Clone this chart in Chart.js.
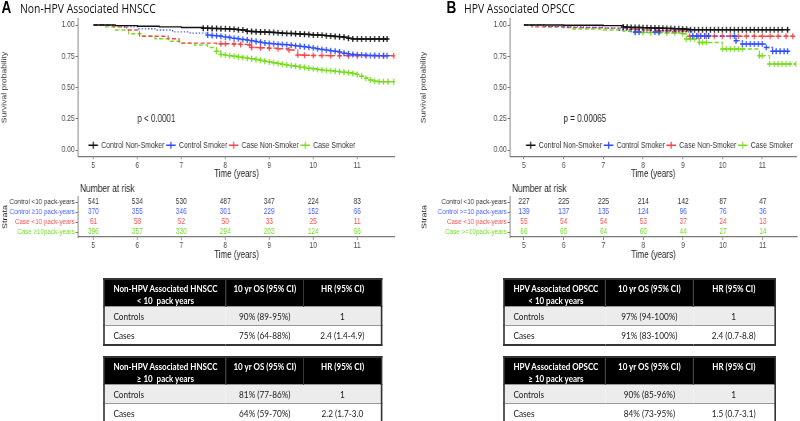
<!DOCTYPE html>
<html>
<head>
<meta charset="utf-8">
<script src="https://cdn.jsdelivr.net/npm/chart.js@4.4.1/dist/chart.umd.min.js"></script>
<style>
html, body { margin: 0; padding: 0; background: #fff; overflow: hidden; }
#page { position: relative; width: 1000px; height: 421px; transform: scaleX(0.8); transform-origin: 0 0; }
canvas { position: absolute; }
.tag { position: absolute; top: -3px; font: bold 17px "Liberation Sans", Arial, sans-serif; line-height: 22px; color: #000; }
.ttl { position: absolute; top: -1px; font: 13px "Open Sans", sans-serif; line-height: 18px; color: #111; white-space: nowrap; }
table.os { position: absolute; border-collapse: collapse; table-layout: fixed; border: 2px solid #333;
  font-family: Lato, "Open Sans", sans-serif; font-size: 10.3px; color: #1a1a1a; }
table.os th { background: #000; color: #fff; font-weight: bold; font-size: 10px; vertical-align: top; padding: 2px 0 0; line-height: 12px; text-align: center; border-left: 1px solid #444; white-space: nowrap; }
table.os th:first-child { text-align: left; padding-left: 11px; border-left: none; }
table.os th .hd { display: inline-block; text-align: center; }
table.os td { border-top: 1px solid #999; padding: 0; text-align: center; vertical-align: middle; white-space: nowrap; }
table.os td:first-child { text-align: left; padding-left: 11px; }
table.os tr.g td { background: #ececec; }
</style>
</head>
<body>
<div id="page">
  <div class="tag" style="left:2px">A</div>
  <div class="ttl" style="left:25px">Non-HPV Associated HNSCC</div>
  <div class="tag" style="left:558px">B</div>
  <div class="ttl" style="left:580px">HPV Associated OPSCC</div>
  <canvas id="kmA" width="500" height="185" style="left:0;top:0;width:500px;height:185px"></canvas>
  <canvas id="kmB" width="476" height="185" style="left:524px;top:0;width:476px;height:185px"></canvas>
  <canvas id="riskA" width="500" height="84" style="left:0;top:178px;width:500px;height:84px"></canvas>
  <canvas id="riskB" width="476" height="84" style="left:524px;top:178px;width:476px;height:84px"></canvas>
  <div id="tables"></div>
</div>
<script>
// axis values
const times = [5, 6, 7, 8, 9, 10, 11];
const survTicks = [0, 0.25, 0.5, 0.75, 1];
const groups = ['Control Non-Smoker', 'Control Smoker', 'Case Non-Smoker', 'Case Smoker'];
const groupColors = ['#111111', '#2d4dff', '#f04848', '#78dc1e'];
const riskColors = ['#333333', '#4660ff', '#f05252', '#70dc28'];
const dashes = [[], [1.5, 2.5], [5, 3], [5, 3]];

// A: Non-HPV associated HNSCC
const aCtrlNonX = [5, 5.5, 6, 6.5, 7, 7.5, 7.6, 7.7, 7.8, 7.9, 8.0, 8.1, 8.2, 8.3, 8.4, 8.5, 8.6, 8.7, 8.8, 8.9, 9.0, 9.1, 9.2, 9.3, 9.4, 9.5, 9.6, 9.7, 9.8, 9.9, 10.0, 10.1, 10.2, 10.3, 10.4, 10.5, 10.6, 10.7, 10.8, 10.9, 11.0, 11.1, 11.2, 11.3, 11.4, 11.5, 11.6, 11.68];
const aCtrlNonY = [1, 0.995, 0.99, 0.985, 0.98, 0.975, 0.974, 0.973, 0.972, 0.971, 0.97, 0.968, 0.966, 0.963, 0.96, 0.95, 0.948, 0.947, 0.945, 0.944, 0.942, 0.94, 0.938, 0.935, 0.933, 0.932, 0.93, 0.928, 0.926, 0.924, 0.921, 0.92, 0.918, 0.915, 0.912, 0.909, 0.906, 0.903, 0.895, 0.889, 0.888, 0.888, 0.888, 0.888, 0.888, 0.888, 0.888, 0.888];
const aCtrlSmkX = [5, 5.3, 5.6, 6, 6.4, 6.8, 7.2, 7.6, 7.7, 7.8, 7.9, 8.0, 8.1, 8.2, 8.3, 8.4, 8.5, 8.6, 8.7, 8.8, 8.9, 9.0, 9.1, 9.2, 9.3, 9.4, 9.5, 9.6, 9.7, 9.8, 9.9, 10.0, 10.1, 10.2, 10.3, 10.4, 10.5, 10.6, 10.7, 10.8, 10.9, 11.0, 11.1, 11.2, 11.3, 11.4, 11.5, 11.6, 11.68];
const aCtrlSmkY = [1, 0.995, 0.985, 0.97, 0.96, 0.945, 0.935, 0.92, 0.917, 0.914, 0.91, 0.905, 0.9, 0.895, 0.89, 0.885, 0.88, 0.874, 0.868, 0.862, 0.857, 0.853, 0.85, 0.847, 0.845, 0.842, 0.838, 0.834, 0.83, 0.826, 0.822, 0.817, 0.81, 0.805, 0.8, 0.795, 0.79, 0.785, 0.775, 0.77, 0.765, 0.762, 0.76, 0.758, 0.757, 0.756, 0.755, 0.755, 0.755];
const aCaseNonX = [5, 5.45, 5.75, 6.05, 6.7, 6.95, 7.8, 7.9, 8.0, 8.2, 8.35, 8.55, 8.6, 8.8, 9.0, 9.2, 9.45, 9.65, 9.8, 10.0, 10.2, 10.4, 10.6, 10.8, 11.0, 11.2, 11.4, 11.6, 11.83];
const aCaseNonY = [1, 0.985, 0.96, 0.91, 0.89, 0.855, 0.85, 0.85, 0.85, 0.848, 0.845, 0.84, 0.82, 0.818, 0.815, 0.81, 0.8, 0.76, 0.758, 0.756, 0.756, 0.755, 0.755, 0.755, 0.755, 0.755, 0.755, 0.755, 0.755];
const aCaseSmkX = [5, 5.25, 5.5, 5.8, 6.1, 6.4, 6.7, 7.0, 7.3, 7.6, 7.8, 7.9, 8.0, 8.1, 8.2, 8.3, 8.4, 8.5, 8.6, 8.7, 8.8, 8.9, 9.0, 9.1, 9.2, 9.3, 9.4, 9.5, 9.6, 9.7, 9.8, 9.9, 10.0, 10.1, 10.2, 10.3, 10.4, 10.5, 10.6, 10.7, 10.8, 10.9, 11.0, 11.1, 11.2, 11.3, 11.4, 11.5, 11.6, 11.7, 11.83];
const aCaseSmkY = [1, 0.985, 0.96, 0.93, 0.91, 0.89, 0.87, 0.855, 0.84, 0.82, 0.79, 0.765, 0.76, 0.755, 0.75, 0.745, 0.74, 0.735, 0.73, 0.725, 0.718, 0.71, 0.705, 0.698, 0.692, 0.686, 0.68, 0.675, 0.67, 0.665, 0.66, 0.655, 0.65, 0.645, 0.64, 0.637, 0.634, 0.63, 0.627, 0.622, 0.618, 0.612, 0.605, 0.59, 0.575, 0.56, 0.55, 0.547, 0.547, 0.547, 0.547];
const aMarkFrom = [7.5, 7.6, 7.85, 7.75];
const riskA = [
  [541, 534, 530, 487, 347, 224, 83],
  [370, 355, 346, 301, 229, 152, 66],
  [61, 58, 52, 50, 33, 25, 11],
  [396, 357, 330, 294, 203, 124, 66]
];
const strataA = ['Control <10 pack-years', 'Control \u226510 pack-years', 'Case <10 pack-years', 'Case \u226510pack-years'];

// B: HPV associated OPSCC
const bCtrlNonX = [5, 6, 7, 7.5, 7.6, 7.7, 7.8, 7.9, 8.0, 8.1, 8.2, 8.3, 8.4, 8.5, 8.6, 8.7, 8.8, 8.9, 9.0, 9.1, 9.2, 9.3, 9.4, 9.5, 9.6, 9.7, 9.8, 9.9, 10.0, 10.1, 10.2, 10.3, 10.4, 10.5, 10.6, 10.7, 10.8, 10.9, 11.0, 11.1, 11.2, 11.3, 11.4, 11.5, 11.64];
const bCtrlNonY = [1, 0.998, 0.995, 0.985, 0.982, 0.98, 0.98, 0.98, 0.979, 0.978, 0.977, 0.976, 0.975, 0.974, 0.973, 0.972, 0.971, 0.97, 0.968, 0.966, 0.963, 0.963, 0.963, 0.963, 0.963, 0.963, 0.963, 0.963, 0.963, 0.963, 0.963, 0.963, 0.963, 0.963, 0.963, 0.963, 0.963, 0.963, 0.963, 0.963, 0.963, 0.963, 0.963, 0.963, 0.963];
const bCtrlSmkX = [5, 5.5, 6, 6.5, 7.0, 7.4, 7.7, 7.8, 7.9, 8.3, 8.4, 9.25, 9.35, 9.45, 9.55, 9.65, 10.3, 10.34, 10.5, 10.6, 10.7, 10.8, 10.9, 11.0, 11.1, 11.26, 11.35, 11.45, 11.55, 11.64];
const bCtrlSmkY = [1, 0.99, 0.985, 0.98, 0.975, 0.96, 0.945, 0.945, 0.945, 0.945, 0.945, 0.912, 0.912, 0.912, 0.912, 0.912, 0.912, 0.875, 0.848, 0.848, 0.848, 0.848, 0.848, 0.848, 0.82, 0.79, 0.79, 0.79, 0.79, 0.79];
const bCaseNonX = [5, 5.2, 6, 7, 7.6, 7.8, 8.0, 8.2, 8.4, 8.6, 8.8, 9.0, 9.17, 9.4, 9.6, 9.8, 10.0, 10.2, 10.4, 10.6, 10.8, 11.0, 11.2, 11.4, 11.6, 11.77];
const bCaseNonY = [1, 0.985, 0.98, 0.975, 0.965, 0.962, 0.96, 0.958, 0.955, 0.955, 0.955, 0.955, 0.91, 0.91, 0.91, 0.91, 0.91, 0.91, 0.91, 0.91, 0.91, 0.91, 0.91, 0.91, 0.91, 0.91];
const bCaseSmkX = [5, 5.5, 6.2, 7.0, 7.5, 7.8, 8.0, 8.2, 8.4, 8.6, 8.8, 9.0, 9.09, 9.2, 9.3, 9.42, 9.5, 9.6, 10.0, 10.1, 10.2, 10.3, 10.4, 10.5, 10.93, 11.0, 11.18, 11.3, 11.4, 11.5, 11.6, 11.7, 11.85];
const bCaseSmkY = [1, 0.985, 0.968, 0.96, 0.95, 0.94, 0.94, 0.94, 0.936, 0.936, 0.936, 0.93, 0.888, 0.888, 0.888, 0.86, 0.86, 0.86, 0.808, 0.808, 0.808, 0.808, 0.808, 0.808, 0.755, 0.755, 0.688, 0.688, 0.688, 0.688, 0.688, 0.688, 0.688];
const bMarkFrom = [7.5, 7.75, 8.3, 7.75];
const riskB = [
  [227, 225, 225, 214, 142, 87, 47],
  [139, 137, 135, 124, 96, 76, 36],
  [55, 54, 54, 53, 37, 24, 13],
  [66, 65, 64, 60, 44, 27, 14]
];
const strataB = ['Control <10 pack-years', 'Control >=10 pack-years', 'Case <10 pack-years', 'Case >=10pack-years'];

const F = '"Liberation Sans", Arial, sans-serif';
const axisColor = '#7a7a7a';

// p value + in-plot legend
const kmText = {
  id: 'kmText',
  afterDraw(chart, args, o) {
    const { ctx, chartArea, scales: { x, y } } = chart;
    ctx.save();
    ctx.font = '10px ' + F;
    ctx.fillStyle = '#222';
    ctx.textBaseline = 'middle';
    ctx.fillText(o.p, x.getPixelForValue(6), y.getPixelForValue(0.25));
    ctx.font = '8.7px ' + F;
    let lx = chartArea.left + o.legendX;
    const ly = chartArea.bottom - 11;
    chart.data.datasets.forEach((ds, i) => {
      ctx.strokeStyle = groupColors[i];
      ctx.lineWidth = 1.5;
      ctx.beginPath();
      ctx.moveTo(lx - 6, ly); ctx.lineTo(lx + 6, ly);
      ctx.moveTo(lx, ly - 3.5); ctx.lineTo(lx, ly + 3.5);
      ctx.stroke();
      ctx.fillStyle = '#333';
      ctx.fillText(ds.label, lx + 10, ly);
      lx += 10 + ctx.measureText(ds.label).width + 8;
    });
    ctx.restore();
  }
};

const riskNumbers = {
  id: 'riskNumbers',
  afterDraw(chart, args, o) {
    const { ctx, chartArea, scales: { x, y } } = chart;
    ctx.save();
    ctx.font = '8.2px ' + F;
    ctx.textAlign = 'center';
    ctx.textBaseline = 'middle';
    o.counts.forEach((row, i) => {
      ctx.fillStyle = riskColors[i];
      row.forEach((n, j) => ctx.fillText(String(n), x.getPixelForValue(times[j]), y.getPixelForValue(i)));
    });
    ctx.fillStyle = '#222';
    ctx.font = '10.5px ' + F;
    ctx.textAlign = 'left';
    ctx.fillText('Number at risk', chartArea.left + 2.5, chartArea.top - 8);
    ctx.restore();
  }
};

function timeAxis(h, titlePad) {
  return {
    type: 'linear', min: 4.65, max: 11.86,
    afterBuildTicks: s => { s.ticks = times.map(v => ({ value: v })); },
    afterFit: s => { s.height = h; },
    grid: { drawOnChartArea: false, drawTicks: true, tickLength: 3, color: axisColor },
    border: { color: axisColor, width: 1.2 },
    ticks: { color: '#4d4d4d', font: { size: 8.5, family: F }, padding: 1, maxRotation: 0, autoSkip: false },
    title: { display: true, text: 'Time (years)', color: '#222', font: { size: 10, family: F }, padding: { top: 0, bottom: titlePad } }
  };
}

function kmChart(id, curves, markFrom, pText, legendX, yW, rightPad) {
  const datasets = curves.map((c, i) => ({
    label: groups[i],
    data: c[0].map((x, j) => ({ x: x, y: c[1][j] })),
    showLine: true,
    stepped: true,
    borderColor: groupColors[i],
    backgroundColor: groupColors[i],
    borderWidth: 1.3,
    borderDash: dashes[i],
    pointStyle: 'cross',
    pointRadius: ctx => (ctx.raw && ctx.raw.x >= markFrom[i]) ? 3 : 0,
    pointBorderWidth: 1.5,
    pointBorderColor: groupColors[i],
    pointHoverRadius: 0
  }));
  new Chart(document.getElementById(id), {
    type: 'scatter',
    data: { datasets },
    options: {
      responsive: false,
      animation: false,
      events: [],
      layout: { padding: { top: 18.75, right: rightPad, left: 0, bottom: 0 } },
      plugins: { legend: { display: false }, tooltip: { enabled: false }, kmText: { p: pText, legendX: legendX } },
      scales: {
        x: timeAxis(28.75, 5),
        y: {
          min: -0.05, max: 1.05,
          afterBuildTicks: s => { s.ticks = survTicks.map(v => ({ value: v })); },
          afterFit: s => { s.width = yW; },
          grid: { drawOnChartArea: false, drawTicks: true, tickLength: 3, color: axisColor },
          border: { color: axisColor, width: 1.2 },
          ticks: { color: '#4d4d4d', font: { size: 8.5, family: F }, padding: 1, callback: v => v.toFixed(2) },
          title: { display: true, text: 'Survival probability', color: '#333', font: { size: 8.5, family: F }, padding: { top: 1, bottom: 0 } }
        }
      }
    },
    plugins: [kmText]
  });
}

function riskChart(id, labels, counts, yW, rightPad) {
  new Chart(document.getElementById(id), {
    type: 'scatter',
    data: { datasets: [] },
    options: {
      responsive: false,
      animation: false,
      events: [],
      layout: { padding: { top: 19, right: rightPad, left: 0, bottom: 0 } },
      plugins: { legend: { display: false }, tooltip: { enabled: false }, riskNumbers: { counts: counts } },
      scales: {
        x: timeAxis(25, 1),
        y: {
          type: 'category', labels: labels, offset: true,
          afterFit: s => { s.width = yW; },
          grid: { drawOnChartArea: false, drawTicks: true, tickLength: 3, color: axisColor, offset: false },
          border: { color: axisColor, width: 1.2 },
          ticks: { color: c => riskColors[c.index], font: { size: 7.9, family: F }, padding: 1, autoSkip: false },
          title: { display: true, text: 'Strata', color: '#222', font: { size: 9, family: F }, padding: { top: 1, bottom: 0 } }
        }
      }
    },
    plugins: [riskNumbers]
  });
}

kmChart('kmA', [[aCtrlNonX, aCtrlNonY], [aCtrlSmkX, aCtrlSmkY], [aCaseNonX, aCaseNonY], [aCaseSmkX, aCaseSmkY]],
  aMarkFrom, 'p < 0.0001', 19, 97.5, 6.25);
kmChart('kmB', [[bCtrlNonX, bCtrlNonY], [bCtrlSmkX, bCtrlSmkY], [bCaseNonX, bCaseNonY], [bCaseSmkX, bCaseSmkY]],
  bMarkFrom, 'p = 0.00065', 26, 113.5, 3.75);
riskChart('riskA', strataA, riskA, 97.5, 6.25);
riskChart('riskB', strataB, riskB, 113.5, 3.75);

// survival summary tables
const osTables = [
  { left: 128.75, top: 278, cols: [152.5, 97.5, 97.5], cohort: 'Non-HPV Associated HNSCC', dose: '&lt; 10&nbsp; pack years',
    rows: [['Controls', '90% (89-95%)', '1'], ['Cases', '75% (64-88%)', '2.4 (1.4-4.9)']] },
  { left: 128.75, top: 356, cols: [152.5, 97.5, 97.5], cohort: 'Non-HPV Associated HNSCC', dose: '\u2265 10&nbsp; pack years',
    rows: [['Controls', '81% (77-86%)', '1'], ['Cases', '64% (59-70%)', '2.2 (1.7-3.0']] },
  { left: 628.75, top: 278, cols: [127, 110, 101.75], cohort: 'HPV Associated OPSCC', dose: '&lt; 10 pack years',
    rows: [['Controls', '97% (94-100%)', '1'], ['Cases', '91% (83-100%)', '2.4 (0.7-8.8)']] },
  { left: 628.75, top: 356, cols: [127, 110, 101.75], cohort: 'HPV Associated OPSCC', dose: '\u2265 10 pack years',
    rows: [['Controls', '90% (85-96%)', '1'], ['Cases', '84% (73-95%)', '1.5 (0.7-3.1)']] }
];
let html = '';
osTables.forEach(t => {
  const w = t.cols.reduce((a, b) => a + b, 0);
  html += `<table class="os" style="left:${t.left}px;top:${t.top}px;width:${w}px">`;
  html += '<colgroup>' + t.cols.map(c => `<col style="width:${c}px">`).join('') + '</colgroup>';
  html += `<tr style="height:24px"><th><span class="hd">${t.cohort}<br>${t.dose}</span></th><th>10 yr OS (95% CI)</th><th>HR (95% CI)</th></tr>`;
  html += `<tr class="g" style="height:19px"><td>${t.rows[0][0]}</td><td>${t.rows[0][1]}</td><td>${t.rows[0][2]}</td></tr>`;
  html += `<tr style="height:19px"><td>${t.rows[1][0]}</td><td>${t.rows[1][1]}</td><td>${t.rows[1][2]}</td></tr>`;
  html += '</table>';
});
document.getElementById('tables').innerHTML = html;
</script>
</body>
</html>
